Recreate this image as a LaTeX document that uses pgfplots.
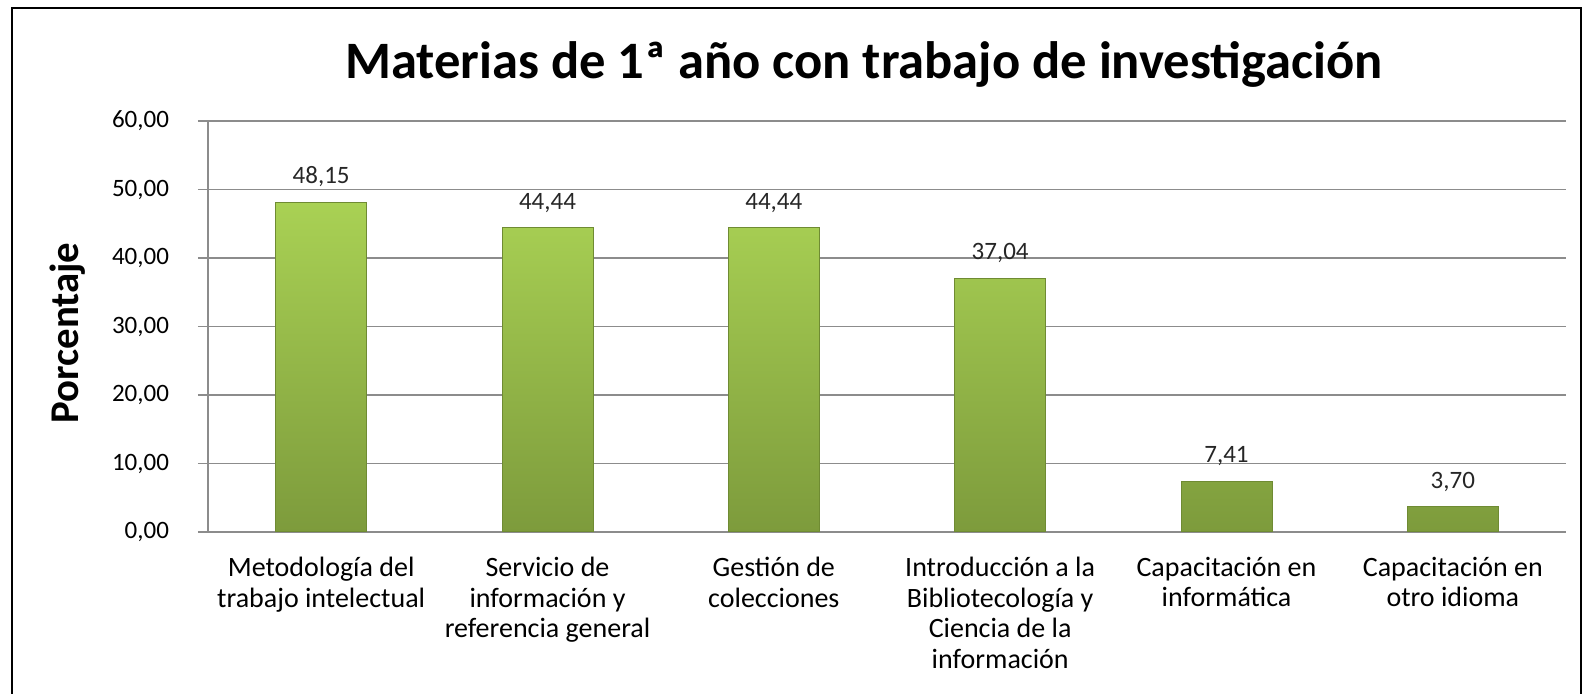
\documentclass[border=0pt]{standalone}
\usepackage{pgfplots}
\pgfplotsset{compat=1.18}
\usepackage{fontspec}
\setmainfont{Carlito}
\definecolor{barTop}{HTML}{A9D154}
\definecolor{barBot}{HTML}{7D9B3C}
\definecolor{barEdge}{HTML}{6F8B33}
\definecolor{gridc}{HTML}{8C8C8C}
\begin{document}
\begin{tikzpicture}
\useasboundingbox (-104pt,-81pt) rectangle (693pt,266pt);
\draw[line width=1pt] (-98pt,-90pt) -- (-98pt,262pt) -- (686.5pt,262pt) -- (686.5pt,-90pt);
\begin{axis}[
  at={(0pt,0pt)}, anchor=south west,
  scale only axis, width=679pt, height=205.5pt,
  xmin=-0.5, xmax=5.5, ymin=0, ymax=60,
  ytick={0,10,...,60},
  xtick={0,...,5},
  xticklabels={{Metodología del\\trabajo intelectual},{Servicio de\\información y\\referencia general},{Gestión de\\colecciones},{Introducción a la\\Bibliotecología y\\Ciencia de la\\información},{Capacitación en\\informática},{Capacitación en\\otro idioma}},
  xticklabel style={align=center, font=\fontsize{14}{15.25}\selectfont, anchor=north, yshift=-4pt},
  yticklabel style={font=\fontsize{12.5}{15}\selectfont, xshift=-11pt},
  /pgf/number format/.cd, fixed, fixed zerofill, precision=2, use comma, assume math mode=true,
  /pgfplots/.cd,
  ymajorgrids, grid style={gridc, line width=0.75pt},
  axis x line*=bottom, axis y line*=left,
  axis line style={gridc, line width=0.75pt},
  tick align=outside, major tick length=5pt,
  ytick style={gridc, line width=0.75pt},
  xtick style={draw=none},
  nodes near coords={\pgfmathprintnumber[fixed,fixed zerofill,precision=2,use comma,assume math mode=true]{\pgfplotspointmeta}},
  nodes near coords style={font=\fontsize{12.5}{15}\selectfont, anchor=south, yshift=4pt, text=black!85},
]
\addplot[ybar, bar width=45.5pt, draw=barEdge, line width=0.5pt, top color=barTop, bottom color=barBot]
  coordinates {(0,48.15) (1,44.44) (2,44.44) (3,37.04) (4,7.41) (5,3.70)};
\end{axis}
\node[font=\bfseries\fontsize{26.3}{31}\selectfont] at (328pt,234pt) {Materias de 1ª año con trabajo de investigación};
\node[rotate=90, font=\bfseries\fontsize{20.4}{24}\selectfont] at (-70pt,99.5pt) {Porcentaje};
\end{tikzpicture}
\end{document}
